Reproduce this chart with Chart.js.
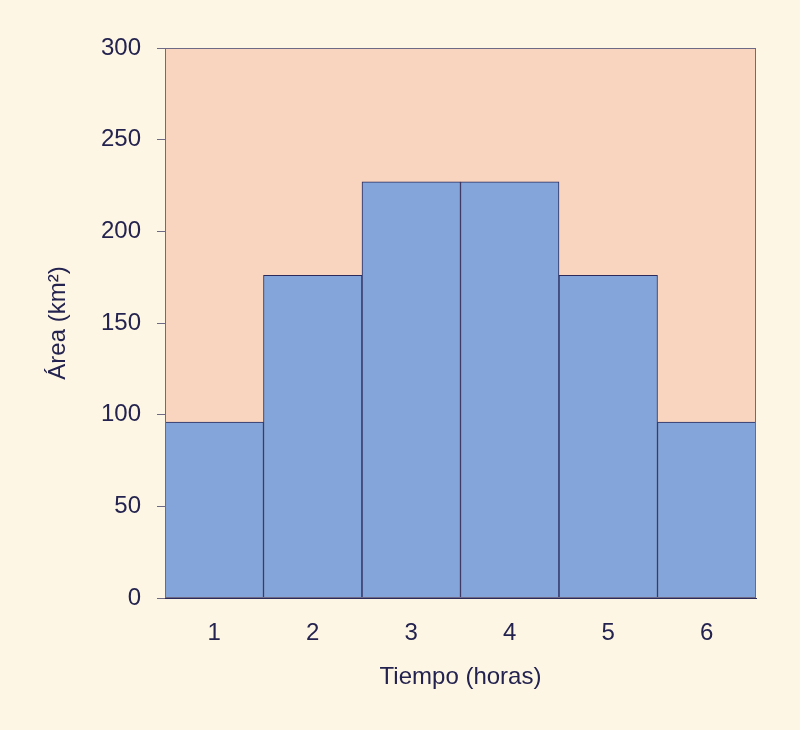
<!DOCTYPE html>
<html>
<head>
<meta charset="utf-8">
<script src="https://cdn.jsdelivr.net/npm/chart.js@4"></script>
<style>
html,body{margin:0;padding:0;background:#FEF6E4;}
#wrap{width:800px;height:730px;position:relative;}
</style>
</head>
<body>
<div id="wrap"><canvas id="c" width="800" height="730"></canvas></div>
<script>
const categories = ["1", "2", "3", "4", "5", "6"];
const areaValues = [96, 176, 227, 227, 176, 96];
const yTicks = [0, 50, 100, 150, 200, 250, 300];
const xTitle = "Tiempo (horas)";
const yTitle = "Área (km²)";

const textColor = "#24234F";
const lineColor = "#2B2A5A";
const fontFam = "Liberation Sans";

const plotBg = {
  id: "plotBg",
  beforeDatasetsDraw(chart) {
    const {ctx, chartArea: a} = chart;
    ctx.save();
    ctx.fillStyle = "#F9D5C0";
    ctx.fillRect(a.left, a.top, a.right - a.left, a.bottom - a.top);
    ctx.restore();
  },
  afterDatasetsDraw(chart) {
    const {ctx, chartArea: a} = chart;
    ctx.save();
    ctx.strokeStyle = "#6E6A86";
    ctx.lineWidth = 1;
    ctx.strokeRect(a.left + 0.5, a.top + 0.5, a.right - a.left - 1, a.bottom - a.top - 1);
    ctx.restore();
  }
};

new Chart(document.getElementById("c"), {
  type: "bar",
  data: {
    labels: categories,
    datasets: [{
      data: areaValues,
      backgroundColor: "#84A5D9",
      borderColor: lineColor,
      borderWidth: 1,
      barPercentage: 1,
      categoryPercentage: 1
    }]
  },
  options: {
    responsive: false,
    animation: false,
    layout: {padding: {top: 48, right: 44, left: 40, bottom: 34}},
    plugins: {legend: {display: false}, tooltip: {enabled: false}},
    scales: {
      x: {
        grid: {display: false, drawTicks: false},
        border: {display: true, color: lineColor},
        ticks: {color: textColor, font: {family: fontFam, size: 24}, padding: 21},
        title: {display: true, text: xTitle, color: textColor, font: {family: fontFam, size: 24}, padding: {top: 4, bottom: 4}},
        afterFit(s) { s.height = 98; }
      },
      y: {
        min: 0, max: 300,
        afterBuildTicks(s) { s.ticks = yTicks.map(v => ({value: v})); },
        grid: {drawOnChartArea: false, drawTicks: true, tickLength: 8, color: "#6E6A86"},
        border: {display: true, color: lineColor},
        ticks: {color: textColor, font: {family: fontFam, size: 24}, padding: 16},
        title: {display: true, text: yTitle, color: textColor, font: {family: fontFam, size: 24}, padding: {top: 4, bottom: 4}},
        afterFit(s) { s.width = 125; }
      }
    }
  },
  plugins: [plotBg]
});
</script>
</body>
</html>
